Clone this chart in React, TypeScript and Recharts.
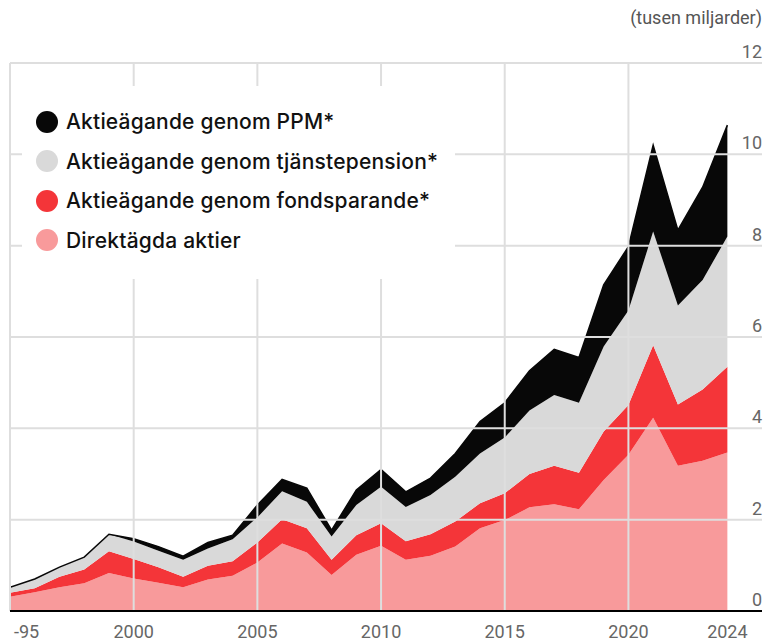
import React from 'react';
import { AreaChart, Area, XAxis, YAxis, ReferenceLine, Legend } from 'recharts';

// values in tusen miljarder kronor
const years = [
  1995, 1996, 1997, 1998, 1999, 2000, 2001, 2002, 2003, 2004,
  2005, 2006, 2007, 2008, 2009, 2010, 2011, 2012, 2013, 2014,
  2015, 2016, 2017, 2018, 2019, 2020, 2021, 2022, 2023, 2024,
];
const direkt = [
  0.31, 0.41, 0.52, 0.61, 0.83, 0.71, 0.62, 0.52, 0.69, 0.77,
  1.06, 1.48, 1.28, 0.79, 1.23, 1.43, 1.12, 1.21, 1.41, 1.81,
  1.99, 2.27, 2.34, 2.23, 2.87, 3.42, 4.23, 3.18, 3.29, 3.47,
];
const fond = [
  0.09, 0.09, 0.23, 0.30, 0.48, 0.43, 0.34, 0.23, 0.30, 0.32,
  0.44, 0.53, 0.53, 0.33, 0.43, 0.49, 0.41, 0.47, 0.55, 0.55,
  0.59, 0.73, 0.84, 0.80, 1.06, 1.09, 1.59, 1.34, 1.56, 1.88,
];
const tjanste = [
  0.12, 0.20, 0.21, 0.27, 0.37, 0.38, 0.36, 0.37, 0.38, 0.48,
  0.55, 0.61, 0.58, 0.51, 0.66, 0.80, 0.75, 0.86, 0.98, 1.09,
  1.22, 1.39, 1.55, 1.53, 1.86, 2.07, 2.49, 2.17, 2.40, 2.85,
];
const ppm = [
  0, 0, 0, 0, 0, 0.06, 0.09, 0.08, 0.13, 0.09,
  0.27, 0.26, 0.30, 0.14, 0.33, 0.38, 0.33, 0.37, 0.51, 0.70,
  0.76, 0.87, 1.00, 0.99, 1.35, 1.40, 1.89, 1.65, 2.03, 2.44,
];

const xTicks = [1995, 2000, 2005, 2010, 2015, 2020, 2024];
const gridYears = [1995, 2000, 2005, 2010, 2015, 2020];
const yTicks = [0, 2, 4, 6, 8, 10, 12];

const legendKeys = ['ppm', 'tjanste', 'fond', 'direkt'];
const legendLabels = [
  'Aktieägande genom PPM*',
  'Aktieägande genom tjänstepension*',
  'Aktieägande genom fondsparande*',
  'Direktägda aktier',
];

const COLORS = {
  ppm: '#080808',
  tjanste: '#d9d9d9',
  fond: '#f43539',
  direkt: '#f89a9b',
};

const data = years.map((year, i) => ({
  year,
  direkt: direkt[i],
  fond: fond[i],
  tjanste: tjanste[i],
  ppm: ppm[i],
}));

const AXIS_FONT = 'Roboto, "Liberation Sans", sans-serif';
const GRID = '#dedede';

const XTick = ({ x, y, payload, index }) => {
  const first = index === 0;
  return (
    <text
      x={first ? x + 4 : x}
      y={y + 27}
      textAnchor={first ? 'start' : 'middle'}
      fill="#666"
      fontSize={18}
      fontFamily={AXIS_FONT}
    >
      {payload.value === 1995 ? '-95' : payload.value}
    </text>
  );
};

const YTick = ({ x, y, payload }) => (
  <text x={x} y={y - 5} textAnchor="end" fill="#666" fontSize={18} fontFamily={AXIS_FONT}>
    {payload.value}
  </text>
);

const LegendBox = () => (
  <div style={{ background: '#fff', paddingTop: 16, paddingLeft: 14, boxSizing: 'border-box', width: 433, height: 193 }}>
    {legendKeys.map((k, i) => (
      <div key={k} style={{ display: 'flex', alignItems: 'center', height: 39.5 }}>
        <span
          style={{
            width: 22,
            height: 22,
            borderRadius: 11,
            background: COLORS[k],
            display: 'inline-block',
            marginRight: 8,
            flexShrink: 0,
          }}
        />
        <span
          style={{
            fontFamily: 'Inter, sans-serif',
            fontSize: 21,
            fontWeight: 500,
            letterSpacing: 0.2,
            color: '#111',
            whiteSpace: 'nowrap',
          }}
        >
          {legendLabels[i]}
        </span>
      </div>
    ))}
  </div>
);

export default function App() {
  return (
    <div style={{ position: 'absolute', left: 0, top: 0, width: 765, height: 641, background: '#fff' }}>
      <div
        style={{
          position: 'absolute',
          right: 3,
          top: 6,
          fontFamily: AXIS_FONT,
          fontSize: 18,
          color: '#555',
          lineHeight: '24px',
        }}
      >
        (tusen miljarder)
      </div>
      <AreaChart width={765} height={641} data={data} margin={{ top: 63, right: 0, bottom: 0, left: 10 }}>
        <XAxis
          dataKey="year"
          type="number"
          domain={[1995, 2025.4]}
          allowDataOverflow
          ticks={xTicks}
          tick={XTick}
          tickLine={false}
          tickSize={0}
          tickMargin={0}
          height={30}
          axisLine={{ stroke: '#000', strokeWidth: 2 }}
          interval={0}
        />
        <YAxis
          orientation="right"
          domain={[0, 12]}
          ticks={yTicks}
          tick={YTick}
          tickLine={false}
          tickSize={0}
          tickMargin={0}
          axisLine={false}
          width={3}
          interval={0}
        />
        <Area type="linear" dataKey="direkt" stackId="1" fill={COLORS.direkt} fillOpacity={1} stroke="none" isAnimationActive={false} />
        <Area type="linear" dataKey="fond" stackId="1" fill={COLORS.fond} fillOpacity={1} stroke="none" isAnimationActive={false} />
        <Area type="linear" dataKey="tjanste" stackId="1" fill={COLORS.tjanste} fillOpacity={1} stroke="none" isAnimationActive={false} />
        <Area type="linear" dataKey="ppm" stackId="1" fill={COLORS.ppm} fillOpacity={1} stroke={COLORS.ppm} strokeWidth={1.5} isAnimationActive={false} />
        {yTicks.filter((v) => v > 0).map((v) => (
          <ReferenceLine key={'h' + v} y={v} stroke={GRID} strokeWidth={2} />
        ))}
        {gridYears.map((yr) => (
          <ReferenceLine key={'v' + yr} x={yr} stroke={GRID} strokeWidth={2} />
        ))}
        <Legend
          layout="horizontal"
          verticalAlign="middle"
          align="center"
          content={LegendBox}
          wrapperStyle={{ left: 22, top: 86, width: 433, height: 193 }}
        />
      </AreaChart>
    </div>
  );
}
